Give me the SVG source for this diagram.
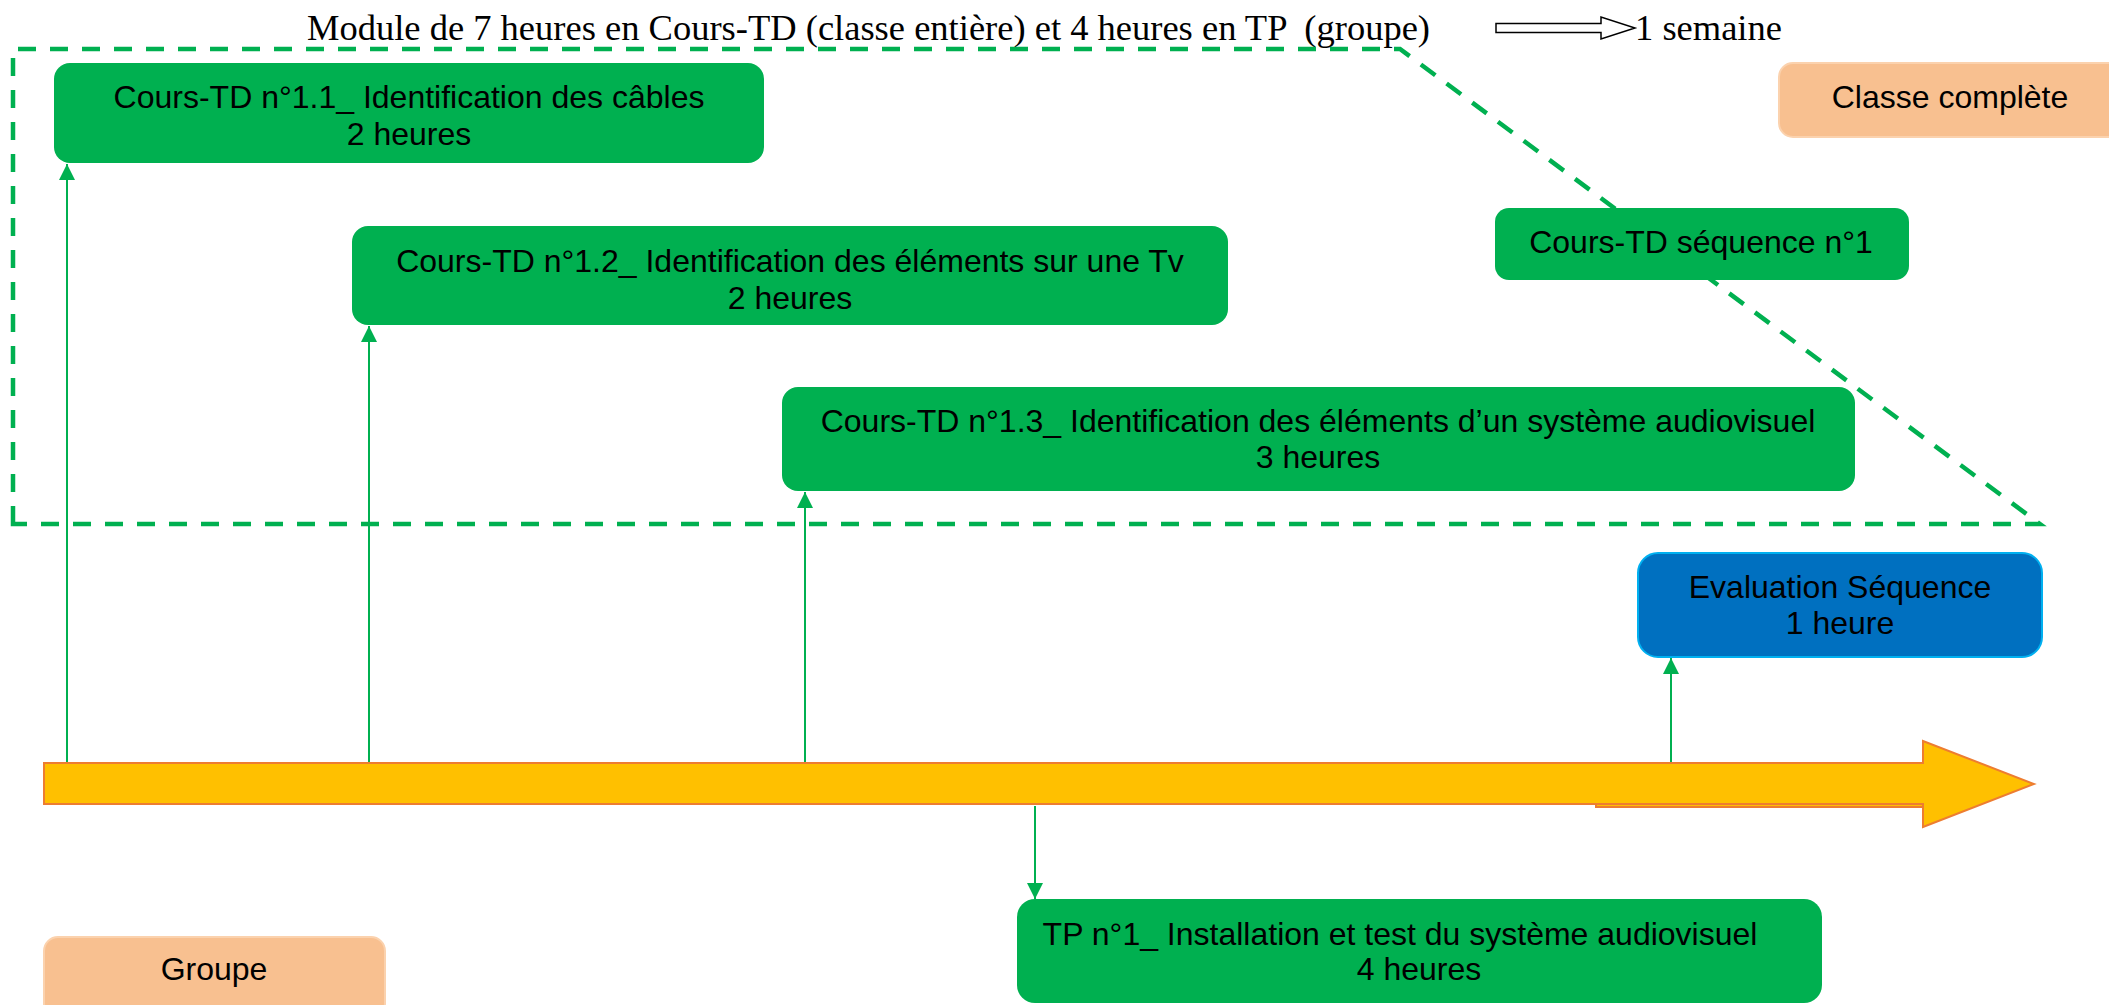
<svg xmlns="http://www.w3.org/2000/svg" width="2109" height="1005" viewBox="0 0 2109 1005">
  <style>
    .lbl { font-family: "Liberation Sans", Arial, sans-serif; font-size: 32px; fill: #000; text-anchor: middle; }
    .title { font-family: "Liberation Serif", "Times New Roman", serif; font-size: 36.5px; fill: #000; white-space: pre; }
    .green { fill: #00B050; }
    .peach { fill: #F8C090; stroke: #FBD2AE; stroke-width: 2; }
    .conn { stroke: #00B050; stroke-width: 2; fill: none; }
  </style>
  <defs>
    <marker id="arr" markerUnits="userSpaceOnUse" markerWidth="16" markerHeight="16" viewBox="0 0 16 16" refX="16" refY="8" orient="auto">
      <path d="M0,0 L16,8 L0,16 Z" fill="#00B050"/>
    </marker>
  </defs>
  <rect width="2109" height="1005" fill="#FFFFFF"/>

  <!-- Title -->
  <g id="title">
    <text class="title" x="307" y="40" xml:space="preserve">Module de 7 heures en Cours-TD (classe entière) et 4 heures en TP  (groupe)</text>
    <path d="M1496,23.5 H1601 V17 L1635,28 L1601,39 V32.5 H1496 Z" fill="#FFFFFF" stroke="#000" stroke-width="1.5"/>
    <text class="title" x="1635" y="40">1 semaine</text>
  </g>

  <!-- Dashed frame -->
  <g id="frame">
    <path d="M13,524 V49 H1400 L2040,524 Z" fill="none" stroke="#00B050" stroke-width="4.5" stroke-dasharray="18 14"/>
  </g>

  <!-- Timeline -->
  <g id="timeline">
    <rect x="1596" y="770" width="327" height="37" fill="#FFC000" stroke="#ED7D31" stroke-width="2"/>
    <path d="M44,763 H1923 V741 L2034,784 L1923,827 V804 H44 Z" fill="#FFC000" stroke="#ED7D31" stroke-width="2"/>
  </g>

  <!-- Connectors -->
  <g id="connectors">
    <line class="conn" x1="67" y1="762" x2="67" y2="164" marker-end="url(#arr)"/>
    <line class="conn" x1="369" y1="762" x2="369" y2="326" marker-end="url(#arr)"/>
    <line class="conn" x1="805" y1="762" x2="805" y2="492" marker-end="url(#arr)"/>
    <line class="conn" x1="1671" y1="762" x2="1671" y2="658" marker-end="url(#arr)"/>
    <line class="conn" x1="1035" y1="806" x2="1035" y2="899" marker-end="url(#arr)"/>
  </g>

  <g id="n11">
    <rect class="green" x="54" y="63" width="710" height="100" rx="16"/>
    <text class="lbl" x="409" y="108">Cours-TD n°1.1_ Identification des câbles</text>
    <text class="lbl" x="409" y="145">2 heures</text>
  </g>

  <g id="n12">
    <rect class="green" x="352" y="226" width="876" height="99" rx="16"/>
    <text class="lbl" x="790" y="272">Cours-TD n°1.2_ Identification des éléments sur une Tv</text>
    <text class="lbl" x="790" y="309">2 heures</text>
  </g>

  <g id="n13">
    <rect class="green" x="782" y="387" width="1073" height="104" rx="16"/>
    <text class="lbl" x="1318" y="432">Cours-TD n°1.3_ Identification des éléments d’un système audiovisuel</text>
    <text class="lbl" x="1318" y="468">3 heures</text>
  </g>

  <g id="seq">
    <rect class="green" x="1495" y="208" width="414" height="72" rx="14"/>
    <text class="lbl" x="1701" y="253">Cours-TD séquence n°1</text>
  </g>

  <g id="classe">
    <rect class="peach" x="1779" y="63" width="345" height="74" rx="14"/>
    <text class="lbl" x="1950" y="108">Classe complète</text>
  </g>

  <g id="eval">
    <rect x="1638" y="553" width="404" height="104" rx="20" fill="#0070C0" stroke="#00B0F0" stroke-width="2"/>
    <text class="lbl" x="1840" y="598">Evaluation Séquence</text>
    <text class="lbl" x="1840" y="634">1 heure</text>
  </g>

  <g id="tp">
    <rect class="green" x="1017" y="899" width="805" height="104" rx="18"/>
    <text class="lbl" x="1400" y="945">TP n°1_ Installation et test du système audiovisuel</text>
    <text class="lbl" x="1419" y="980">4 heures</text>
  </g>

  <g id="groupe">
    <rect class="peach" x="44" y="937" width="341" height="80" rx="14"/>
    <text class="lbl" x="214" y="980">Groupe</text>
  </g>
</svg>
